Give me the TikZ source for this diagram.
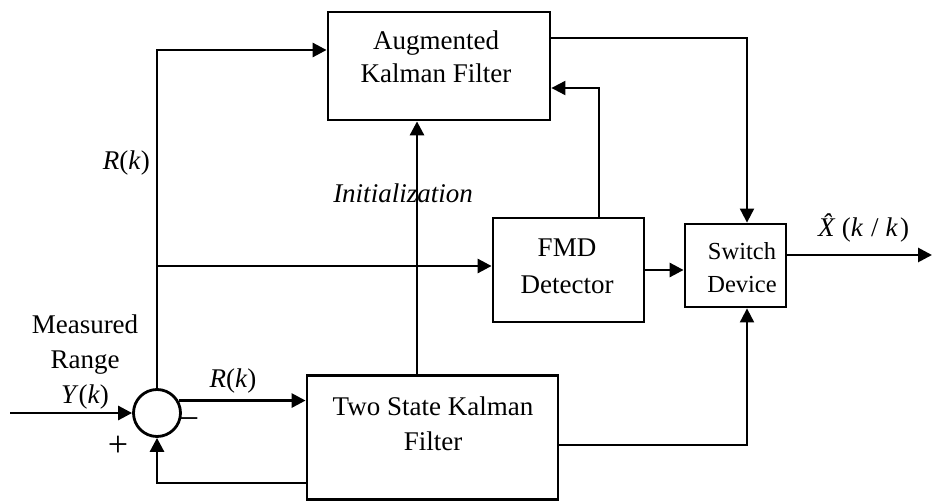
\documentclass[tikz,border=0pt]{standalone}
\usepackage{fontspec}
\setmainfont{Liberation Serif}
\usetikzlibrary{arrows.meta}
\begin{document}
\begin{tikzpicture}[x=1pt,y=-1pt,
  box/.style={draw, line width=2.8pt, rectangle, inner sep=0pt},
  sumnode/.style={draw, line width=2.8pt, circle, inner sep=0pt, minimum size=47pt},
  wire/.style={line width=2.8pt, line join=miter, -{Triangle[length=14pt,width=14pt]}},
  thinwire/.style={line width=2pt, line join=miter, -{Triangle[length=14pt,width=14pt]}},
  lbl/.style={inner sep=0pt, font=\fontsize{27}{33}\selectfont},
  smalllbl/.style={inner sep=0pt, font=\fontsize{24.5}{30}\selectfont},
  signlbl/.style={inner sep=0pt, font=\fontsize{36}{40}\selectfont}
]
\useasboundingbox (0,0) rectangle (933,502);

% blocks
\node[box, minimum width=222pt, minimum height=108pt] (akf) at (439,66) {};
\node[box, minimum width=151pt, minimum height=104pt] (fmd) at (568.5,270) {};
\node[box, minimum width=101pt, minimum height=83pt] (sw) at (735.5,265.5) {};
\node[box, minimum width=251pt, minimum height=124pt] (tskf) at (432.5,437.5) {};
\node[sumnode] (sum) at (157,413) {};

% block texts
\node[lbl, anchor=base] (akfa) at (436,50) {Augmented};
\node[lbl, anchor=base] (akfb) at (436,83) {Kalman Filter};
\node[lbl, anchor=base] (fmda) at (567,257) {FMD};
\node[lbl, anchor=base] (fmdb) at (567,293) {Detector};
\node[smalllbl, anchor=base] (swa) at (742,260) {Switch};
\node[smalllbl, anchor=base] (swb) at (742,292) {Device};
\node[lbl, anchor=base] (tska) at (433,415) {Two State Kalman};
\node[lbl, anchor=base] (tskb) at (433,450) {Filter};

% routing points
\coordinate (jtop) at (157,50);
\coordinate (jmid) at (157,266);
\coordinate (inp) at (10,413);
\coordinate (fb) at (157,483);
\coordinate (init) at (417,0);
\coordinate (fbk) at (599,88);
\coordinate (aout) at (747,38);
\coordinate (tout) at (747,445);
\coordinate (xout) at (932,255);

% connectors
\draw[wire] (sum.north) -- (jtop) -- (jtop -| akf.west);
\draw[wire] (jmid) -- (jmid -| fmd.west);
\draw[wire] (inp) -- (sum.west);
\draw[wire] (sum.30) -- (sum.30 -| tskf.west);
\draw[wire] (fb -| tskf.west) -- (fb) -- (sum.south);
\draw[wire] (init |- tskf.north) -- (init |- akf.south);
\draw[thinwire] (fbk |- fmd.north) -- (fbk) -- (fbk -| akf.east);
\draw[thinwire] (aout -| akf.east) -- (aout) -- (aout |- sw.north);
\draw[wire] (fmd.east) -- (fmd.east -| sw.west);
\draw[thinwire] (tout -| tskf.east) -- (tout) -- (tout |- sw.south);
\draw[wire] (xout -| sw.east) -- (xout);

% signal labels
\node[lbl, anchor=base east] (rleft) at (150,170) {\textit{R}(\textit{k})};
\node[lbl, anchor=base] (initlbl) at (403,203) {\textit{Initialization}};
\node[lbl, anchor=base] (rmid) at (233,387) {\textit{R}(\textit{k})};
\node[lbl, anchor=base] (meas) at (85,333) {Measured};
\node[lbl, anchor=base] (range) at (85,368) {Range};
\node[lbl, anchor=base] (yk) at (85,403) {\textit{Y}(\textit{k})};
\node[signlbl] (minus) at (189,424) {−};
\node[signlbl] (plus) at (118,446) {+};
\node[lbl, anchor=base west] (xhat) at (818,237)
  {\textit{\^{X}}\hspace{-3pt}(\textit{k}\hspace{8pt}/\hspace{7pt}\textit{k}\hspace{2pt})};
\end{tikzpicture}
\end{document}
